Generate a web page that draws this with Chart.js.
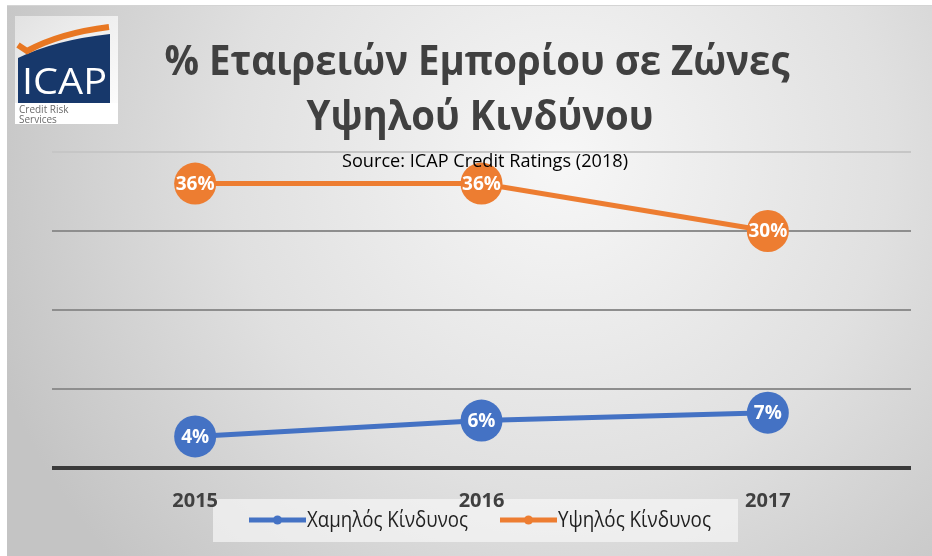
<!DOCTYPE html>
<html>
<head>
<meta charset="utf-8">
<script src="https://cdn.jsdelivr.net/npm/chart.js@4.4.1/dist/chart.umd.min.js"></script>
<style>
  body { margin: 0; background: #fff; }
</style>
</head>
<body>
<canvas id="myChart" width="932" height="556"></canvas>
<script>
// chart data
const years = ['2015', '2016', '2017'];
const lowRisk = [4, 6, 7];
const highRisk = [36, 36, 30];
const seriesNames = ['Χαμηλός Κίνδυνος', 'Υψηλός Κίνδυνος'];
const seriesColors = ['#4472C4', '#ED7D31'];
const yMin = 0;
const yMax = 40;
const yStep = 10;
const titleLines = ['% Εταιρειών Εμπορίου σε Ζώνες', 'Υψηλού Κινδύνου'];
const subtitleText = 'Source: ICAP Credit Ratings (2018)';

const FONT = "'Open Sans', 'Noto Sans', sans-serif";

// grey gradient panel, logo and legend box behind everything
const backgroundPlugin = {
  id: 'background',
  beforeDraw(chart) {
    const ctx = chart.ctx;
    ctx.save();
    ctx.fillStyle = '#ffffff';
    ctx.fillRect(0, 0, chart.width, chart.height);
    const g = ctx.createRadialGradient(560, 160, 0, 560, 160, 600);
    g.addColorStop(0, '#f7f7f7');
    g.addColorStop(0.55, '#e0e0e0');
    g.addColorStop(1, '#c4c4c4');
    ctx.fillStyle = g;
    ctx.fillRect(7, 5, chart.width - 7, 551);
    ctx.fillStyle = '#d4d4d4';
    ctx.fillRect(7, 5, chart.width - 7, 1);

    // legend box (labels of the x axis sit on top of it)
    ctx.fillStyle = 'rgba(246,246,246,0.7)';
    ctx.fillRect(213, 499, 525, 43);

    // ICAP logo
    const lg = ctx.createLinearGradient(15, 16, 118, 124);
    lg.addColorStop(0, '#e2e2e2');
    lg.addColorStop(1, '#ffffff');
    ctx.fillStyle = lg;
    ctx.fillRect(15, 16, 103, 108);
    ctx.fillStyle = '#ffffff';
    ctx.fillRect(15, 103, 103, 21);
    ctx.fillStyle = '#17386b';
    ctx.beginPath();
    ctx.moveTo(18, 58);
    ctx.quadraticCurveTo(55, 40, 110, 34);
    ctx.lineTo(110, 103);
    ctx.lineTo(18, 103);
    ctx.closePath();
    ctx.fill();
    ctx.strokeStyle = '#E87722';
    ctx.lineWidth = 6;
    ctx.beginPath();
    ctx.moveTo(18, 45);
    ctx.lineTo(27, 51);
    ctx.quadraticCurveTo(60, 33, 109, 27);
    ctx.stroke();
    ctx.fillStyle = '#ffffff';
    ctx.font = '36px ' + FONT;
    ctx.textBaseline = 'alphabetic';
    const w = ctx.measureText('ICAP').width;
    ctx.translate(22, 94);
    ctx.scale(85 / w, 1);
    ctx.fillText('ICAP', 0, 0);
    ctx.setTransform(1, 0, 0, 1, 0, 0);
    ctx.fillStyle = '#6b6b6b';
    ctx.font = '10px ' + FONT;
    ctx.fillText('Credit Risk', 19, 113);
    ctx.fillText('Services', 19, 123);
    ctx.restore();
  }
};

// value labels inside the markers
const valueLabelPlugin = {
  id: 'valueLabels',
  afterDatasetsDraw(chart) {
    const ctx = chart.ctx;
    ctx.save();
    ctx.fillStyle = '#ffffff';
    ctx.font = 'bold 19px ' + FONT;
    ctx.textAlign = 'center';
    ctx.textBaseline = 'middle';
    chart.data.datasets.forEach((ds, i) => {
      chart.getDatasetMeta(i).data.forEach((pt, j) => {
        ctx.fillText(ds.data[j] + '%', pt.x, pt.y + 1);
      });
    });
    ctx.restore();
  }
};

// title, subtitle and the legend entries on top
const overlayPlugin = {
  id: 'overlay',
  afterDraw(chart) {
    const ctx = chart.ctx;
    ctx.save();
    ctx.textBaseline = 'alphabetic';
    ctx.textAlign = 'center';

    ctx.fillStyle = '#404040';
    ctx.font = 'bold 42px ' + FONT;
    const sx = 625 / ctx.measureText(titleLines[0]).width;
    ctx.translate(477, 75);
    ctx.scale(sx, 1);
    ctx.fillText(titleLines[0], 0, 0);
    ctx.setTransform(1, 0, 0, 1, 0, 0);
    ctx.translate(480, 130);
    ctx.scale(sx, 1);
    ctx.fillText(titleLines[1], 0, 0);
    ctx.setTransform(1, 0, 0, 1, 0, 0);

    ctx.fillStyle = '#000000';
    ctx.font = '18px ' + FONT;
    const ssx = 286 / ctx.measureText(subtitleText).width;
    ctx.translate(485, 167);
    ctx.scale(ssx, 1);
    ctx.fillText(subtitleText, 0, 0);
    ctx.setTransform(1, 0, 0, 1, 0, 0);

    // legend entries
    const items = [
      { x0: 249, x1: 306, tx: 307, tw: 161 },
      { x0: 500, x1: 557, tx: 558, tw: 153 }
    ];
    const ly = 520;
    ctx.textAlign = 'left';
    ctx.textBaseline = 'middle';
    ctx.font = '21px ' + FONT;
    chart.data.datasets.forEach((ds, i) => {
      const it = items[i];
      ctx.strokeStyle = ds.borderColor;
      ctx.lineWidth = 5;
      ctx.beginPath();
      ctx.moveTo(it.x0, ly);
      ctx.lineTo(it.x1, ly);
      ctx.stroke();
      ctx.fillStyle = ds.borderColor;
      ctx.beginPath();
      ctx.arc((it.x0 + it.x1) / 2, ly, 4.5, 0, Math.PI * 2);
      ctx.fill();
      ctx.fillStyle = '#1f1f1f';
      const tw = ctx.measureText(ds.label).width;
      ctx.save();
      ctx.translate(it.tx, ly + 1);
      ctx.scale(it.tw / tw, 1);
      ctx.fillText(ds.label, 0, 0);
      ctx.restore();
    });
    ctx.restore();
  }
};

const ctx = document.getElementById('myChart').getContext('2d');
new Chart(ctx, {
  type: 'line',
  data: {
    labels: years,
    datasets: [
      {
        label: seriesNames[0],
        data: lowRisk,
        borderColor: seriesColors[0],
        backgroundColor: seriesColors[0],
      },
      {
        label: seriesNames[1],
        data: highRisk,
        borderColor: seriesColors[1],
        backgroundColor: seriesColors[1],
      }
    ].map(ds => Object.assign(ds, {
      borderWidth: 5,
      pointRadius: 21,
      pointHoverRadius: 21,
      pointBorderWidth: 0,
      pointBackgroundColor: ds.borderColor,
      tension: 0,
      clip: false
    }))
  },
  options: {
    responsive: false,
    animation: false,
    events: [],
    layout: {
      padding: { top: 152, left: 52, right: 16, bottom: 22 }
    },
    plugins: {
      legend: { display: false },
      title: { display: false },
      tooltip: { enabled: false }
    },
    scales: {
      x: {
        offset: true,
        grid: { display: false, drawTicks: false },
        border: { display: false },
        ticks: {
          padding: 21,
          color: '#404040',
          font: { family: FONT, size: 20, weight: 'bold' }
        }
      },
      y: {
        min: yMin,
        max: yMax,
        ticks: { display: false, stepSize: yStep },
        border: { display: false },
        grid: {
          drawTicks: false,
          color: (c) => c.tick.value === 0 ? '#3a3a3a' : (c.tick.value === yMax ? '#c6c6c6' : '#8e8e8e'),
          lineWidth: (c) => c.tick.value === 0 ? 4 : 2
        }
      }
    }
  },
  plugins: [backgroundPlugin, valueLabelPlugin, overlayPlugin]
});
</script>
</body>
</html>
